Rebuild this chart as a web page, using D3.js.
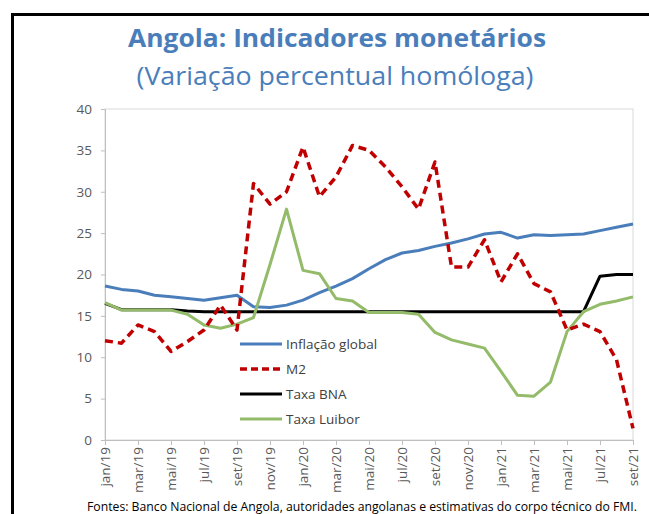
<!DOCTYPE html>
<html lang="pt">
<head>
  <meta charset="UTF-8">
  <title>Angola: Indicadores monetários</title>
  <style>
  body { margin: 0; background: #fff; }
  svg { display: block; }
  </style>
</head>
<body>
  <svg id="chart" width="649" height="514"></svg>
  <script src="https://cdn.jsdelivr.net/npm/d3@7"></script>
  <script>

const months = ['jan/19','fev/19','mar/19','abr/19','mai/19','jun/19','jul/19','ago/19','set/19','out/19','nov/19','dez/19',
  'jan/20','fev/20','mar/20','abr/20','mai/20','jun/20','jul/20','ago/20','set/20','out/20','nov/20','dez/20',
  'jan/21','fev/21','mar/21','abr/21','mai/21','jun/21','jul/21','ago/21','set/21']

const inflacao = [18.6, 18.2, 18.0, 17.5, 17.3, 17.1, 16.9, 17.2, 17.5, 16.1, 16.0, 16.3,
  16.9, 17.8, 18.6, 19.5, 20.7, 21.8, 22.6, 22.9, 23.4, 23.8, 24.3, 24.9,
  25.1, 24.4, 24.8, 24.7, 24.8, 24.9, 25.3, 25.7, 26.1]

const m2 = [12.0, 11.7, 13.9, 13.1, 10.7, 11.9, 13.3, 16.3, 13.3, 31.0, 28.5, 30.0,
  35.4, 29.4, 31.8, 35.6, 35.0, 33.0, 30.6, 27.9, 33.6, 20.9, 20.9, 24.2,
  19.1, 22.5, 18.9, 17.9, 13.3, 14.0, 13.1, 9.7, 1.4]

const taxaBNA = [16.5, 15.75, 15.75, 15.75, 15.75, 15.6, 15.5, 15.5, 15.5, 15.5, 15.5, 15.5,
  15.5, 15.5, 15.5, 15.5, 15.5, 15.5, 15.5, 15.5, 15.5, 15.5, 15.5, 15.5,
  15.5, 15.5, 15.5, 15.5, 15.5, 15.5, 19.8, 20.0, 20.0]

const taxaLuibor = [16.6, 15.7, 15.7, 15.7, 15.7, 15.2, 13.9, 13.5, 14.0, 14.8, 21.2, 27.9,
  20.5, 20.1, 17.1, 16.8, 15.4, 15.4, 15.4, 15.2, 13.0, 12.1, 11.6, 11.1,
  8.3, 5.4, 5.3, 7.0, 13.1, 15.5, 16.4, 16.8, 17.3]

const yTicks = [0, 5, 10, 15, 20, 25, 30, 35, 40]

const series = [
  {name: 'Inflação global', values: inflacao, color: '#4a7ebb', dash: null},
  {name: 'M2', values: m2, color: '#c00000', dash: '8,5'},
  {name: 'Taxa BNA', values: taxaBNA, color: '#000000', dash: null},
  {name: 'Taxa Luibor', values: taxaLuibor, color: '#93bb6a', dash: null}
]

const svg = d3.select('#chart')
const font = '"Open Sans", "Noto Sans", sans-serif'

// frame
svg.append('path')
  .attr('d', 'M12.5,514 V14.5 H649')
  .attr('fill', 'none')
  .attr('stroke', '#000')
  .attr('stroke-width', 3)

// titles
svg.append('text')
  .attr('x', 337).attr('y', 47)
  .attr('text-anchor', 'middle')
  .attr('font-family', font)
  .attr('font-weight', 'bold')
  .attr('font-size', 25)
  .attr('fill', '#4a7ebb')
  .attr('textLength', 418)
  .attr('lengthAdjust', 'spacingAndGlyphs')
  .text('Angola: Indicadores monetários')

svg.append('text')
  .attr('x', 335).attr('y', 85)
  .attr('text-anchor', 'middle')
  .attr('font-family', font)
  .attr('font-size', 25)
  .attr('fill', '#4a7ebb')
  .attr('textLength', 397)
  .attr('lengthAdjust', 'spacingAndGlyphs')
  .text('(Variação percentual homóloga)')

const x = d3.scalePoint().domain(months).range([105, 633])
const y = d3.scaleLinear().domain([0, 40]).range([440, 109])

// plot border
svg.append('rect')
  .attr('x', 105).attr('y', 109)
  .attr('width', 528).attr('height', 331)
  .attr('fill', 'none')
  .attr('stroke', '#d9d9d9')

// y axis
const yAxis = svg.append('g')
  .attr('transform', 'translate(105,0)')
  .call(d3.axisLeft(y).tickValues(yTicks).tickSize(4).tickPadding(9))
yAxis.select('.domain').attr('stroke', '#bfbfbf')
yAxis.selectAll('line').attr('stroke', '#bfbfbf')
yAxis.selectAll('text')
  .attr('font-family', font)
  .attr('font-size', 13.5)
  .attr('fill', '#595959')

// x axis
const xAxis = svg.append('g')
  .attr('transform', 'translate(0,440)')
  .call(d3.axisBottom(x).tickValues(months.filter((d, i) => i % 2 === 0)).tickSize(5).tickSizeOuter(0))
xAxis.select('.domain').attr('stroke', '#bfbfbf')
xAxis.selectAll('line').attr('stroke', '#bfbfbf')
xAxis.selectAll('text')
  .attr('font-family', font)
  .attr('font-size', 13.5)
  .attr('fill', '#595959')
  .attr('text-anchor', 'end')
  .attr('transform', 'rotate(-90)')
  .attr('x', -7)
  .attr('y', 0)
  .attr('dy', '0.35em')

// lines
const line = d3.line()
  .x((d, i) => x(months[i]))
  .y(d => y(d))

const drawOrder = [series[0], series[2], series[3], series[1]]
drawOrder.forEach(s => {
  svg.append('path')
    .datum(s.values)
    .attr('d', line)
    .attr('fill', 'none')
    .attr('stroke', s.color)
    .attr('stroke-width', s.dash ? 3.5 : 3)
    .attr('stroke-dasharray', s.dash)
    .attr('stroke-linejoin', 'round')
})

// legend
const legend = svg.append('g')
series.forEach((s, i) => {
  const ly = 344 + i * 25
  legend.append('line')
    .attr('x1', 240).attr('x2', 282)
    .attr('y1', ly).attr('y2', ly)
    .attr('stroke', s.color)
    .attr('stroke-width', s.dash ? 3.5 : 3)
    .attr('stroke-dasharray', s.dash ? '7,4' : null)
  legend.append('text')
    .attr('x', 286).attr('y', ly)
    .attr('dy', '0.35em')
    .attr('font-family', font)
    .attr('font-size', 13.5)
    .attr('fill', '#404040')
    .text(s.name)
})

// source
svg.append('text')
  .attr('x', 87).attr('y', 511)
  .attr('font-family', font)
  .attr('font-size', 12)
  .attr('fill', '#000')
  .attr('textLength', 550)
  .attr('lengthAdjust', 'spacingAndGlyphs')
  .text('Fontes: Banco Nacional de Angola, autoridades angolanas e estimativas do corpo técnico do FMI.')

  </script>
</body>
</html>
